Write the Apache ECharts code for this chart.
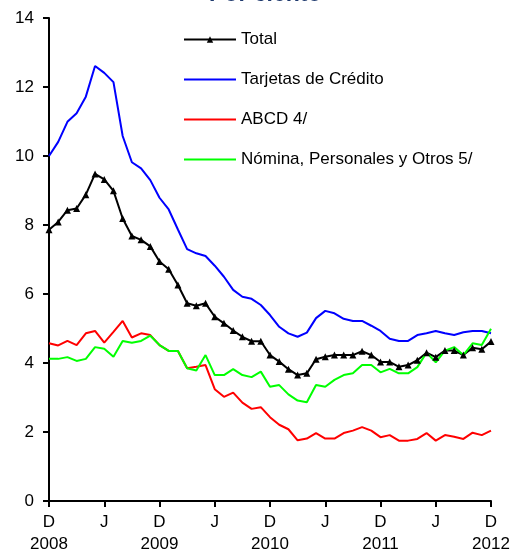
<!DOCTYPE html>
<html>
<head>
<meta charset="utf-8">
<script src="https://cdn.jsdelivr.net/npm/echarts@6/dist/echarts.min.js"></script>
<style>
  html, body { margin: 0; padding: 0; background: #fff; }
  #chart { width: 516px; height: 552px; }
</style>
</head>
<body>
<div id="chart"></div>
<script>
// Monthly series, December 2008 through December 2012 (per cent)
const monthNames = ['Dic', 'Ene', 'Feb', 'Mar', 'Abr', 'May', 'Jun', 'Jul', 'Ago', 'Sep', 'Oct', 'Nov'];
const firstYear = 2008;
const months = [];
for (let i = 0; i < 49; i++) {
  months.push(monthNames[i % 12] + ' ' + (firstYear + Math.ceil(i / 12)));
}

const total = [7.86, 8.09, 8.43, 8.48, 8.88, 9.48, 9.32, 8.99, 8.19, 7.68, 7.57, 7.38,
  6.94, 6.72, 6.26, 5.73, 5.66, 5.73, 5.34, 5.15, 4.94, 4.76, 4.63, 4.63,
  4.23, 4.04, 3.82, 3.65, 3.70, 4.11, 4.18, 4.23, 4.23, 4.23, 4.34, 4.23,
  4.03, 4.03, 3.89, 3.94, 4.08, 4.30, 4.17, 4.36, 4.36, 4.23, 4.44, 4.40, 4.62];

const tarjetas = [10.00, 10.41, 10.99, 11.24, 11.72, 12.61, 12.41, 12.14, 10.58, 9.82, 9.64, 9.30,
  8.79, 8.45, 7.87, 7.30, 7.18, 7.10, 6.82, 6.50, 6.12, 5.92, 5.86, 5.68,
  5.39, 5.05, 4.86, 4.76, 4.88, 5.30, 5.51, 5.44, 5.28, 5.22, 5.22, 5.08,
  4.93, 4.70, 4.64, 4.64, 4.81, 4.86, 4.93, 4.86, 4.81, 4.89, 4.93, 4.93, 4.86];

const abcd = [4.57, 4.51, 4.64, 4.52, 4.86, 4.93, 4.59, 4.90, 5.22, 4.74, 4.86, 4.81,
  4.52, 4.35, 4.35, 3.85, 3.89, 3.94, 3.24, 3.02, 3.14, 2.85, 2.67, 2.72,
  2.43, 2.21, 2.08, 1.76, 1.81, 1.97, 1.81, 1.81, 1.97, 2.04, 2.14, 2.04,
  1.85, 1.91, 1.75, 1.75, 1.80, 1.97, 1.75, 1.91, 1.86, 1.80, 1.98, 1.91, 2.04];

const nomina = [4.12, 4.12, 4.17, 4.06, 4.12, 4.46, 4.41, 4.18, 4.64, 4.59, 4.64, 4.79,
  4.52, 4.35, 4.35, 3.85, 3.78, 4.23, 3.65, 3.65, 3.82, 3.65, 3.59, 3.75,
  3.31, 3.36, 3.09, 2.91, 2.86, 3.36, 3.31, 3.51, 3.65, 3.70, 3.94, 3.94,
  3.73, 3.83, 3.70, 3.70, 3.88, 4.30, 4.02, 4.36, 4.46, 4.23, 4.57, 4.52, 4.99];

// Category ticks every six months (D = diciembre, J = junio)
const tickIndex = [0, 6, 12, 18, 24, 30, 36, 42, 48];
const tickLetter = ['D', 'J', 'D', 'J', 'D', 'J', 'D', 'J', 'D'];
const tickYear = ['2008', '', '2009', '', '2010', '', '2011', '', '2012'];

const yTicks = { min: 0, max: 14, interval: 2 };

const seriesNames = ['Total', 'Tarjetas de Crédito', 'ABCD 4/', 'Nómina, Personales y Otros 5/'];
const FONT = 'Liberation Sans, Arial, sans-serif';

const chart = echarts.init(document.getElementById('chart'), null, { renderer: 'canvas' });

function isTick(idx) { return tickIndex.indexOf(idx) !== -1; }

// Legend entries: plain line keys for the unmarked series
const legendData = seriesNames.map(function (name, i) {
  return i === 0 ? { name: name } : { name: name, itemStyle: { opacity: 0 } };
});

chart.setOption({
  animation: false,
  backgroundColor: '#ffffff',
  title: {
    text: 'Por ciento',
    left: 209,
    top: -17,
    padding: 0,
    textStyle: { color: '#1f3a6e', fontSize: 23, fontWeight: 'bold', fontFamily: FONT }
  },
  grid: { left: 49, right: 25, top: 18, bottom: 51, outerBoundsMode: 'none', containLabel: false },
  legend: {
    orient: 'vertical',
    left: 183,
    top: 31,
    itemWidth: 52,
    itemHeight: 8,
    itemGap: 23,
    padding: 0,
    data: legendData,
    textStyle: { color: '#000', fontSize: 17, fontFamily: FONT }
  },
  xAxis: {
    type: 'category',
    data: months,
    boundaryGap: false,
    axisLine: { lineStyle: { color: '#000', width: 2 } },
    axisTick: { show: true, interval: isTick, length: 6, lineStyle: { color: '#000', width: 2 } },
    axisLabel: {
      interval: isTick,
      margin: 10,
      color: '#000',
      fontSize: 17,
      fontFamily: FONT,
      lineHeight: 22,
      formatter: function (value, idx) {
        const k = tickIndex.indexOf(idx);
        if (k === -1) return '';
        return tickYear[k] ? tickLetter[k] + '\n' + tickYear[k] : tickLetter[k];
      }
    },
    splitLine: { show: false }
  },
  yAxis: {
    type: 'value',
    min: yTicks.min,
    max: yTicks.max,
    interval: yTicks.interval,
    axisLine: { show: true, lineStyle: { color: '#000', width: 2 } },
    axisTick: { show: true, length: 6, lineStyle: { color: '#000', width: 2 } },
    axisLabel: { color: '#000', fontSize: 17, fontFamily: FONT, margin: 15 },
    splitLine: { show: false }
  },
  series: [
    {
      name: seriesNames[0], type: 'line', data: total,
      symbol: 'triangle', symbolSize: 7, showSymbol: true, showAllSymbol: true,
      itemStyle: { color: '#000' },
      lineStyle: { color: '#000', width: 2 }
    },
    {
      name: seriesNames[1], type: 'line', data: tarjetas, symbol: 'none',
      itemStyle: { color: '#0000ff' },
      lineStyle: { color: '#0000ff', width: 2 }
    },
    {
      name: seriesNames[2], type: 'line', data: abcd, symbol: 'none',
      itemStyle: { color: '#ff0000' },
      lineStyle: { color: '#ff0000', width: 2 }
    },
    {
      name: seriesNames[3], type: 'line', data: nomina, symbol: 'none',
      itemStyle: { color: '#00ff00' },
      lineStyle: { color: '#00ff00', width: 2 }
    }
  ]
});
</script>
</body>
</html>
